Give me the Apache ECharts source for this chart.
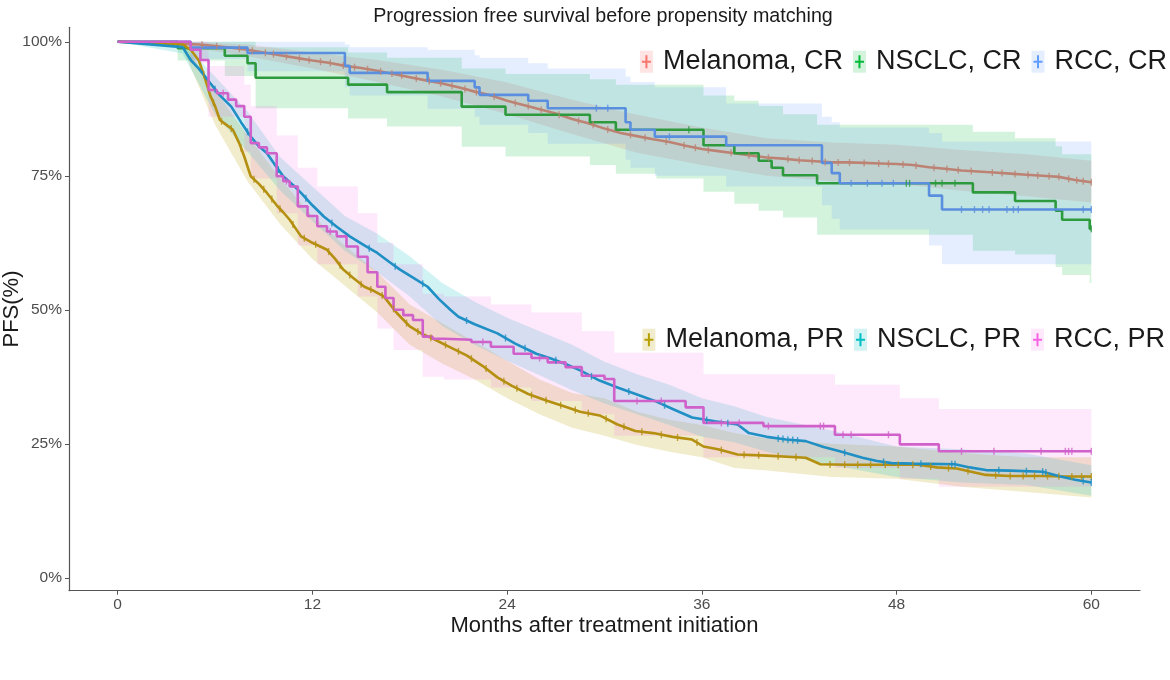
<!DOCTYPE html>
<html><head><meta charset="utf-8">
<script src="https://cdn.jsdelivr.net/npm/echarts@6/dist/echarts.min.js"></script>
<style>html,body{margin:0;padding:0;background:#fff}#c{width:1170px;height:680px}</style>
</head><body><div id="c"></div>
<script>
// ---------- DATA (months, PFS %) ----------
const xTicks = [0, 12, 24, 36, 48, 60];
const yTicks = [0, 25, 50, 75, 100];

// Melanoma, CR
const melCR_t = [0,3,4,5,6,7,8,9,10,11,12,13,14,15,16,17,18,19,20,21,22,23,24,25,26,27,28,29,30,31,32,33,34,35,36,37,38,39,40,41,42,43,44,45,46,47,48,49,50,51,52,53,54,55,56,57,58,59,60];
const melCR_v = [100,99.8,99.6,99.5,99.2,98.9,98.5,98.0,97.5,97.0,96.5,96.1,95.5,95.1,94.6,94.0,93.4,92.8,92.2,91.5,90.7,90.0,89.0,88.2,87.4,86.6,85.6,84.8,83.8,83.0,82.4,81.8,81.3,80.6,80.0,79.6,79.2,78.8,78.4,78.2,77.9,77.7,77.5,77.5,77.4,77.3,77.2,77.0,76.6,76.3,76.0,75.8,75.6,75.4,75.2,75.0,74.8,74.2,73.8];
const melCR_bt = [0,4,8,12,16,20,24,28,32,36,40,44,48,52,56,60];
const melCR_lo = [100,99.2,97.3,95.0,92.5,89.8,86.5,82.8,79.3,77.0,75.0,74.0,73.5,72.2,71.2,70.0];
const melCR_hi = [100,100,99.5,98.0,96.6,94.8,92.4,89.2,86.4,84.0,82.0,81.2,80.8,79.8,79.0,77.8];
const melCR_c = [5.2,6.1,7.5,8.3,9.1,9.6,10.4,11.2,11.8,12.5,13.1,13.9,14.6,15.4,16.2,16.9,17.5,18.4,19.2,19.9,20.6,21.4,22.1,23.2,24.5,25.3,26.1,27.2,28.4,29.3,30.2,31.6,32.5,33.8,34.9,35.6,36.4,37.8,38.9,40.1,41.3,42.0,42.8,43.6,44.4,45.1,46.0,46.9,47.5,48.4,49.2,50.3,51.1,51.8,52.6,53.9,54.5,55.3,56.1,56.7,57.4,58.0,58.6,59.1,59.5,60];

// NSCLC, CR
const nsCR_t = [0,3.7,6.6,8.0,8.5,14.2,16.6,21.2,23.9,29.1,30.7,36.1,38.0,39.5,40.3,41.0,43.1,52.7,55.3,57.8,58.2,59.9,60];
const nsCR_v = [100,98.8,97.4,96.0,93.3,92.0,90.6,87.9,86.4,85.0,83.6,80.7,79.2,77.8,76.5,75.1,73.6,71.9,70.3,68.5,66.8,65.1,65.1];
const nsCR_bt = [0,3.7,6.6,8.5,14.2,16.6,21.2,23.9,29.1,30.7,33.2,36.1,38.0,39.5,41.0,43.1,52.7,55.3,57.8,58.2,59.9,60];
const nsCR_lo = [100,96.5,93.6,87.6,85.7,84.2,80.4,78.6,77.0,75.4,74.5,72.0,69.8,68.5,67.2,64.0,61.0,60.3,58.0,56.5,55.0,55.0];
const nsCR_hi = [100,100,100,99,98,97,95,94,93,92,92,90,89,88,86.5,84.5,83.2,82.0,80.5,79.0,79.0,79.0];
const nsCR_c = [35.2,48.6,48.8,50.4,50.8,51.6,60];

// RCC, CR
const rcCR_t = [0,4.5,8,14,14.3,19.1,22,22.3,25.3,26.5,31.3,31.6,33.1,37.5,43.4,44,44.5,50,50.8,60];
const rcCR_v = [100,98.9,97.9,95.5,94.2,92.7,91.5,90.1,89.0,87.6,85.0,83.6,82.3,80.7,77.4,75.5,73.6,71.3,68.7,68.7];
const rcCR_bt = [0,4.5,8,14,14.3,19.1,22,22.3,25.3,26.5,31.3,31.6,33.1,37.5,43.4,44,44.5,50,50.8,60];
const rcCR_lo = [100,96.8,94.5,91.5,90,87.5,86,84.5,83,81,78,76.5,75,73,69.5,67,65,62,58.5,58.5];
const rcCR_hi = [100,100,100,99.5,99,98.5,97.5,97,96,95,93.5,92.5,91.5,88.5,86,85,84,83,81.4,81.4];
const rcCR_c = [29.5,30.2,34.0,45.2,46.2,47.1,47.8,52.0,52.8,53.3,53.7,54.8,55.2,55.5,59.5,60];

// Melanoma, PR
const melPR_t = [0,4,4.5,5,5.4,5.7,6,6.3,6.7,7.1,7.5,7.8,8.2,8.7,9.2,9.8,10.2,10.6,11.3,12,12.9,13.4,13.9,14.5,15.2,15.8,16.4,17.2,18,18.7,19.5,20.5,21.5,22.5,23.4,24.3,25.3,26.5,27.5,28.5,29.7,30.8,31.9,33,34.2,35.4,36.1,37,38.2,40,42.4,43.3,45,47,49.3,50.5,51.7,53.5,55,57,58.5,60];
const melPR_v = [100,99.5,98.5,96.5,93,90,88,85.4,84.5,83.6,81,78.6,74.9,73.5,71.8,69.5,68.2,66.8,63.7,62.5,61.2,59.5,57.5,56,54.3,53.5,52.5,49.4,46.9,45.6,44.5,43.0,41.5,39.5,37.4,35.8,34.3,33,32,31,30.3,28.6,27.4,27,26.3,25.8,24.5,24,23,22.8,22.4,21.2,21.1,21.1,21.1,20.6,20.4,19.2,19,19,18.9,18.9];
const melPR_bt = [0,4,6,8,10,12,14,16,18,20,22,24,26,28,30,32,34,36,38,40,44,48,52,56,60];
const melPR_lo = [100,98.8,84.5,74,66,59.5,54.5,49.5,43.5,40,37,33.5,30.5,28,26.5,24.8,23.5,22.5,20.5,20,18.8,18.5,17,16,15];
const melPR_hi = [100,100,91,82.5,74.5,67.5,62,57,51,47.5,44,40.5,37,34.5,33.5,31,29.5,28.5,27,26,25,24.5,23.3,22.5,22.5];
const melPR_c = [5.3,5.9,6.4,7.0,7.6,8.4,9.0,9.5,10.0,10.8,11.5,12.2,13.0,13.7,14.3,15.0,15.6,16.3,17.0,17.8,18.5,19.3,20.2,21.0,21.8,22.7,23.8,24.6,25.5,26.4,27.3,28.2,29.0,30.1,31.2,32.3,33.5,34.5,35.7,37.2,38.6,39.5,40.7,41.8,43.9,44.8,45.6,46.4,47.3,48.1,49.0,50.1,51.2,52.4,54.1,55.0,55.8,56.5,57.3,58.0,58.8,59.4,60];

// NSCLC, PR
const nsPR_t = [0,4,4.5,5,5.7,6.3,7,7.6,8.2,8.7,9.2,9.7,10.2,10.8,11.3,12,12.7,13.5,14.3,15.2,16,16.7,17.4,18.2,19.1,19.8,20.5,21,22,23.4,24.5,25.8,26.7,27.6,28.5,29.7,30.8,32,33.1,34.2,35.4,36.8,38.2,38.9,40,41.2,42.4,43.5,44.5,45.2,45.9,46.8,47.7,49,51.6,52.5,53.5,55,57,58.1,59,60];
const nsPR_v = [100,99,96.6,95,92.3,90,87.9,85,82.3,80.5,79.2,77,74.9,73.3,71.8,69.5,67.4,65.5,63.7,62,60.6,59,57.5,56,54.3,52,50,48.7,47.3,45.6,43.7,41.8,40.9,39.9,38.7,36.8,35.5,34.2,33,31.5,29.9,29.2,28.6,27,26.3,25.8,25.5,24.4,23.6,23,22.4,21.8,21.4,21.3,21.2,20.6,20.1,20,19.8,18.9,18.3,17.8];
const nsPR_bt = [0,4,6,8,10,12,14,16,18,20,22,24,26,28,30,32,34,36,38,40,44,48,52,56,60];
const nsPR_lo = [100,97.8,86.5,79.5,72.3,66.5,61,57,52.5,47,43.5,40.5,37.8,35,32.5,30.5,28.5,26.3,25.3,23.5,21,18.8,17.8,17.3,15.3];
const nsPR_hi = [100,100,93.5,87,78.5,73,67.5,64.2,60,55,51.5,48.5,46,43.5,40.3,38,36,33.5,32,30,27.5,24.5,24,23.2,21];
const nsPR_c = [6.0,8.0,9.9,11.6,13.2,15.5,17.1,18.8,21.5,23.9,25.1,27.0,29.2,31.5,33.7,36.3,37.6,40.7,41.0,41.3,41.6,41.9,44.8,47.2,49.5,51.4,51.6,54.3,56.0,57.0,57.2,59.5,60];

// RCC, PR
const rcPR_t = [0,4.5,5.1,5.6,6.1,6.8,7.3,7.8,8.2,8.7,9.2,9.8,10.2,10.6,11.1,11.7,12.3,12.9,13.5,14.1,14.8,15.4,16,16.5,17,17.6,18.2,18.8,19.4,20.1,21.8,23,24.4,25.5,26.5,27.6,28.6,30,30.6,35,36.1,39.8,44.2,48.2,50.6,60];
const rcPR_v = [100,98.5,96.6,91,90.4,89.2,88,86,81.1,80.3,79.2,74.9,74,73,69.3,67.5,65.6,64.6,63.7,61.8,59.9,57,54.3,52.2,50,49,48.1,45,44.6,44.4,44,43.1,41.8,41,40.2,39.3,37.7,37.1,33,31.8,28.9,28.3,26.7,24.9,23.6,23.6];
const rcPR_bt = [0,4.5,5.6,7.8,8.2,9.8,11.1,12.3,14.8,16,17,18.8,20.1,23,25.5,28.6,30.6,36.1,44.2,48.2,50.6,60];
const rcPR_lo = [100,96,86,79.5,74.5,68,62,58.5,52.5,46.5,42.5,37.5,37,35.5,33,30.5,26.5,22.5,20.5,18.5,17,17];
const rcPR_hi = [100,100,95.5,92,88,82.5,76.5,73,68,62.5,58.5,53,52.5,51,49.5,46,42,38,36,33.5,31.5,31.5];
const rcPR_c = [6.5,10.4,13.1,22.5,26.0,32.0,33.5,37.2,38.3,40.1,43.3,43.5,44.7,45.2,47.5,52.0,54.0,56.9,58.4,58.6,58.8,60];

// ---------- STYLE ----------
const FONT = 'Liberation Sans, Arial, sans-serif';
const groups = [
  {name:'Melanoma, CR', t:melCR_t, v:melCR_v, bt:melCR_bt, lo:melCR_lo, hi:melCR_hi, c:melCR_c, step:false, line:'#BC8374', hue:'#F8766D', band:'rgba(248,118,109,0.20)'},
  {name:'NSCLC, CR',    t:nsCR_t,  v:nsCR_v,  bt:nsCR_bt,  lo:nsCR_lo,  hi:nsCR_hi,  c:nsCR_c,  step:true,  line:'#2E9A3E', hue:'#00BA38', band:'rgba(0,186,56,0.17)'},
  {name:'RCC, CR',      t:rcCR_t,  v:rcCR_v,  bt:rcCR_bt,  lo:rcCR_lo,  hi:rcCR_hi,  c:rcCR_c,  step:true,  line:'#5A8FE0', hue:'#619CFF', band:'rgba(97,156,255,0.17)'},
  {name:'Melanoma, PR', t:melPR_t, v:melPR_v, bt:melPR_bt, lo:melPR_lo, hi:melPR_hi, c:melPR_c, step:false, line:'#B48F10', hue:'#B79F00', band:'rgba(183,159,0,0.20)'},
  {name:'NSCLC, PR',    t:nsPR_t,  v:nsPR_v,  bt:nsPR_bt,  lo:nsPR_lo,  hi:nsPR_hi,  c:nsPR_c,  step:false, line:'#1F8FC4', hue:'#00BFC4', band:'rgba(0,191,196,0.18)'},
  {name:'RCC, PR',      t:rcPR_t,  v:rcPR_v,  bt:rcPR_bt,  lo:rcPR_lo,  hi:rcPR_hi,  c:rcPR_c,  step:true,  line:'#D060CA', hue:'#F564E3', band:'rgba(245,100,227,0.15)'}
];

// value of a curve at time x (step or linear, matching how the line is drawn)
function curveAt(t, v, x, step) {
  for (let i = 0; i < t.length - 1; i++) {
    if (x >= t[i] && x < t[i+1]) {
      if (step) return v[i];
      return v[i] + (v[i+1] - v[i]) * (x - t[i]) / (t[i+1] - t[i]);
    }
  }
  return v[v.length - 1];
}

function bandSeries(g) {
  return {
    type:'custom', name:g.name + ' CI', coordinateSystem:'cartesian2d', silent:true, z:1,
    data: g.bt.map((t,i)=>[t, g.lo[i], g.hi[i]]),
    encode:{x:0, y:[1,2]},
    renderItem: function(params, api) {
      if (params.dataIndex !== 0) return null;
      const n = g.bt.length, pts = [];
      for (let i = 0; i < n; i++) {
        pts.push(api.coord([g.bt[i], g.hi[i]]));
        if (g.step && i < n-1) pts.push(api.coord([g.bt[i+1], g.hi[i]]));
      }
      for (let i = n-1; i >= 0; i--) {
        if (g.step && i < n-1) pts.push(api.coord([g.bt[i+1], g.lo[i]]));
        pts.push(api.coord([g.bt[i], g.lo[i]]));
      }
      return {type:'polygon', shape:{points:pts}, style:{fill:g.band, stroke:null}};
    }
  };
}

const series = [];
groups.forEach(g => series.push(bandSeries(g)));
groups.forEach(g => series.push({
  type:'line', name:g.name, step: g.step ? 'end' : false, symbol:'none', showSymbol:false, z:3,
  data: g.t.map((t,i)=>[t, g.v[i]]),
  lineStyle:{color:g.line, width:2.6}, itemStyle:{color:g.line}
}));
groups.forEach(g => series.push({
  type:'scatter', name:g.name + ' censor', symbol:'rect', symbolSize:[1.4,7], z:4, silent:true,
  data: g.c.map(x=>[x, curveAt(g.t, g.v, x, g.step)]),
  itemStyle:{color:g.line}
}));

const plusIcon = 'path://M0,0 L0,0 M13,22 L13,22 M5.5,4.5 H7.5 V10 H11 V12 H7.5 V17.5 H5.5 V12 H2 V10 H5.5 Z';
function legendPair(names, top, right) {
  const base = {orient:'horizontal', right:right, top:top, padding:0, itemGap:10, itemWidth:13, itemHeight:22, selectedMode:false,
    textStyle:{fontSize:27, fontFamily:FONT, lineHeight:30, padding:[0,0,0,5]}};
  const gs = names.map(n => groups.find(g => g.name === n));
  return [
    Object.assign({}, base, {data: gs.map(g=>({name:g.name, icon:'rect', itemStyle:{color:g.band, borderWidth:0}})),
      textStyle: Object.assign({}, base.textStyle, {color:'rgba(0,0,0,0)'})}),
    Object.assign({}, base, {data: gs.map(g=>({name:g.name, icon:plusIcon, itemStyle:{color:g.hue, borderWidth:0}})),
      textStyle: Object.assign({}, base.textStyle, {color:'#1a1a1a'})})
  ];
}

const chart = echarts.init(document.getElementById('c'), null, {renderer:'canvas'});
chart.setOption({
  animation:false,
  backgroundColor:'#ffffff',
  title:{text:'Progression free survival before propensity matching', left:598, top:2, textAlign:'center',
    textStyle:{fontSize:19.7, fontWeight:'normal', color:'#1a1a1a', fontFamily:FONT}},
  legend: [].concat(legendPair(['Melanoma, CR','NSCLC, CR','RCC, CR'], 46.7, 3), legendPair(['Melanoma, PR','NSCLC, PR','RCC, PR'], 324.7, 5)),
  grid:{left:69, right:30, top:27.3, bottom:89.3, containLabel:false, outerBoundsMode:'none'},
  xAxis:{type:'value', min:-3, max:63,
    name:'Months after treatment initiation', nameLocation:'middle', nameGap:24, nameMoveOverlap:false,
    nameTextStyle:{fontSize:22, color:'#1a1a1a', fontFamily:FONT},
    axisLine:{show:true, onZero:false, lineStyle:{color:'#555555', width:1.2}},
    axisTick:{show:true, customValues:xTicks, length:4, lineStyle:{color:'#555555'}},
    axisLabel:{customValues:xTicks, color:'#4d4d4d', fontSize:15.5, fontFamily:FONT, margin:6},
    splitLine:{show:false}},
  yAxis:{type:'value', min:-2.4, max:102.7,
    name:'PFS(%)', nameLocation:'middle', nameGap:46, nameRotate:90, nameMoveOverlap:false,
    nameTextStyle:{fontSize:22, color:'#1a1a1a', fontFamily:FONT},
    axisLine:{show:true, onZero:false, lineStyle:{color:'#555555', width:1.2}},
    axisTick:{show:true, customValues:yTicks, length:4, lineStyle:{color:'#555555'}},
    axisLabel:{customValues:yTicks, color:'#4d4d4d', fontSize:15.5, fontFamily:FONT, margin:7, formatter:v=>v+'%'},
    splitLine:{show:false}},
  series: series
});
</script></body></html>
